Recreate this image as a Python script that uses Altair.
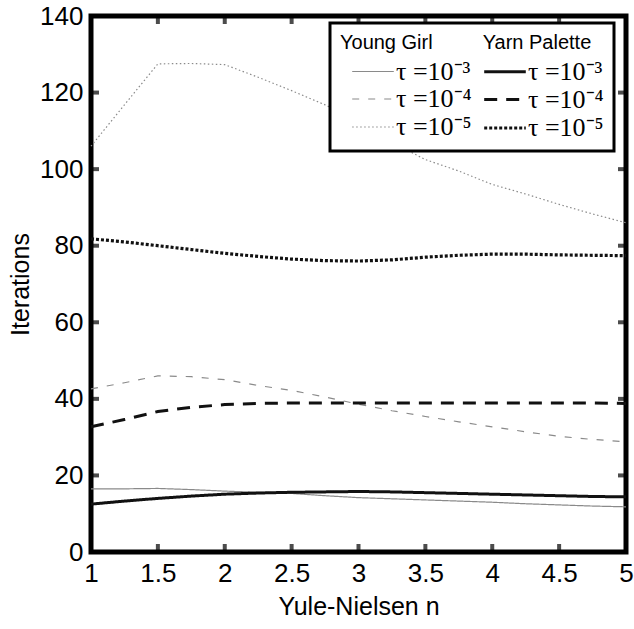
import altair as alt
import pandas as pd

N = [1, 1.25, 1.5, 1.75, 2, 2.25, 2.5, 2.75, 3, 3.25, 3.5, 3.75, 4, 4.25, 4.5, 4.75, 5]

yg_3 = [16.5, 16.5, 16.6, 16.3, 15.9, 15.6, 15.3, 14.7, 14.2, 13.9, 13.6, 13.3, 13.0, 12.6, 12.3, 12.0, 11.8]
yg_4 = [42.6, 44.2, 46.0, 45.8, 45.0, 43.5, 42.2, 40.5, 38.6, 36.9, 35.4, 34.0, 32.7, 31.4, 30.2, 29.4, 28.8]
yg_5 = [106.0, 116.8, 127.5, 127.6, 127.3, 124.0, 120.5, 116.8, 112.5, 107.0, 102.5, 99.5, 96.0, 93.5, 90.8, 88.3, 86.0]
yp_3 = [12.5, 13.3, 14.0, 14.6, 15.1, 15.4, 15.6, 15.7, 15.8, 15.7, 15.5, 15.3, 15.1, 14.9, 14.7, 14.5, 14.4]
yp_4 = [32.7, 34.6, 36.7, 37.8, 38.5, 38.8, 38.9, 38.9, 38.9, 38.9, 38.9, 38.9, 38.9, 38.9, 38.9, 38.9, 38.8]
yp_5 = [81.8, 81.0, 80.0, 79.0, 78.0, 77.2, 76.5, 76.1, 76.0, 76.3, 77.0, 77.5, 77.8, 77.8, 77.6, 77.5, 77.4]

SERIES = ["YG|τ =10⁻³", "YG|τ =10⁻⁴", "YG|τ =10⁻⁵", "YP|τ =10⁻³", "YP|τ =10⁻⁴", "YP|τ =10⁻⁵"]
VALUES = [yg_3, yg_4, yg_5, yp_3, yp_4, yp_5]

XTICKS = [1, 1.5, 2, 2.5, 3, 3.5, 4, 4.5, 5]
YTICKS = [0, 20, 40, 60, 80, 100, 120, 140]

rows = []
for s, vals in zip(SERIES, VALUES):
    for n, v in zip(N, vals):
        rows.append({"n": n, "it": v, "series": s})
df = pd.DataFrame(rows)

W, H = 535, 536
FONT = "Liberation Sans"

xscale = alt.Scale(domain=[1, 5], nice=False, zero=False)
yscale = alt.Scale(domain=[0, 140], nice=False)

colors = ["#8a8a8a", "#8a8a8a", "#8a8a8a", "#111111", "#111111", "#111111"]
dashes = [[1, 0], [7, 9], [1.5, 2.5], [1, 0], [13, 9], [3, 2]]
widths = [1.2, 1.2, 1.2, 3, 3, 3.2]

leg = alt.Legend(
    title="\u00a0\u00a0Young Girl\u00a0\u00a0\u00a0\u00a0\u00a0\u00a0\u00a0\u00a0\u00a0Yarn Palette",
    orient="none", legendX=239, legendY=7, columns=2,
    symbolType="M-1.6,0L1.6,0", symbolSize=676, symbolOffset=18,
    symbolFillColor="transparent",
    labelExpr="split(datum.label, '|')[1]",
    labelFont="Liberation Serif", labelFontSize=26, labelColor="black",
    titleFont=FONT, titleFontSize=20, titleFontWeight="normal", titleColor="black",
    titleLimit=400, labelLimit=200,
    titlePadding=4, rowPadding=0, columnPadding=0, labelOffset=8,
    padding=10, strokeColor="black", fillColor="white",
)

lines = alt.Chart(df).mark_line().encode(
    x=alt.X("n:Q", scale=xscale, title="Yule-Nielsen n",
            axis=alt.Axis(values=XTICKS, format="~g")),
    y=alt.Y("it:Q", scale=yscale, title="Iterations",
            axis=alt.Axis(values=YTICKS)),
    color=alt.Color("series:N", scale=alt.Scale(domain=SERIES, range=colors), legend=leg, title=None),
    strokeDash=alt.StrokeDash("series:N", scale=alt.Scale(domain=SERIES, range=dashes), legend=leg, title=None),
    strokeWidth=alt.StrokeWidth("series:N", scale=alt.Scale(type="ordinal", domain=SERIES, range=widths), legend=leg, title=None),
    detail="series:N",
)

xt = pd.DataFrame({"n": XTICKS})
yt = pd.DataFrame({"it": YTICKS})

tick_b = alt.Chart(xt).mark_tick(size=8, thickness=4, color="black", yOffset=-4).encode(
    x=alt.X("n:Q", scale=xscale), y=alt.value(H))
tick_t = alt.Chart(xt).mark_tick(size=8, thickness=4, color="black", yOffset=4).encode(
    x=alt.X("n:Q", scale=xscale), y=alt.value(0))
tick_l = alt.Chart(yt).mark_tick(size=8, thickness=4, color="black", xOffset=4).encode(
    y=alt.Y("it:Q", scale=yscale), x=alt.value(0))
tick_r = alt.Chart(yt).mark_tick(size=8, thickness=4, color="black", xOffset=-4).encode(
    y=alt.Y("it:Q", scale=yscale), x=alt.value(W))

chart = alt.layer(lines, tick_b, tick_t, tick_l, tick_r).properties(
    width=W, height=H,
    autosize=alt.AutoSizeParams(type="none"),
    padding={"left": 91, "top": 16, "right": 8, "bottom": 77},
).configure_view(
    stroke="black", strokeWidth=5
).configure_axis(
    domain=False, grid=False, ticks=False,
    labelFont=FONT, labelFontSize=26, labelColor="black", labelPadding=8,
    titleFont=FONT, titleFontSize=25, titleFontWeight="normal", titleColor="black",
).configure_axisX(
    titlePadding=8, labelFlush=False
).configure_axisY(
    titlePadding=6
).configure_legend(
    strokeWidth=3
)

chart.save("out.html", embed_options={"renderer": "svg", "actions": False})
